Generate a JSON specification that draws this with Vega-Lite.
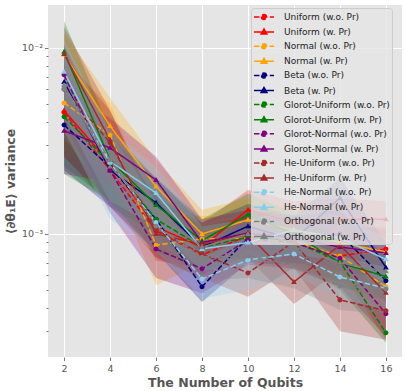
{
  "$schema": "https://vega.github.io/schema/vega-lite/v6.json",
  "autosize": "none",
  "width": 354,
  "height": 352,
  "padding": {"left": 48, "top": 5, "right": 5, "bottom": 34},
  "background": "white",
  "config": {
    "view": {"fill": "#E5E5E5", "stroke": null},
    "font": "DejaVu Sans"
  },
  "data": {"values": [
    {"s":"Uniform (w.o. Pr)","x":2,"m":4.5e-3,"lo":2.6e-3,"hi":7.0e-3},
    {"s":"Uniform (w.o. Pr)","x":4,"m":2.2e-3,"lo":1.4e-3,"hi":3.2e-3},
    {"s":"Uniform (w.o. Pr)","x":6,"m":1.04e-3,"lo":7.5e-4,"hi":1.4e-3},
    {"s":"Uniform (w.o. Pr)","x":8,"m":7.7e-4,"lo":5.8e-4,"hi":1.0e-3},
    {"s":"Uniform (w.o. Pr)","x":10,"m":9.8e-4,"lo":7.2e-4,"hi":1.3e-3},
    {"s":"Uniform (w.o. Pr)","x":12,"m":9.0e-4,"lo":6.5e-4,"hi":1.2e-3},
    {"s":"Uniform (w.o. Pr)","x":14,"m":7.6e-4,"lo":5.5e-4,"hi":1.05e-3},
    {"s":"Uniform (w.o. Pr)","x":16,"m":8.3e-4,"lo":6.2e-4,"hi":1.1e-3},
    {"s":"Uniform (w. Pr)","x":2,"m":4.6e-3,"lo":2.6e-3,"hi":7.5e-3},
    {"s":"Uniform (w. Pr)","x":4,"m":2.4e-3,"lo":1.5e-3,"hi":3.6e-3},
    {"s":"Uniform (w. Pr)","x":6,"m":1.09e-3,"lo":8.0e-4,"hi":1.5e-3},
    {"s":"Uniform (w. Pr)","x":8,"m":8.5e-4,"lo":6.5e-4,"hi":1.15e-3},
    {"s":"Uniform (w. Pr)","x":10,"m":1.35e-3,"lo":1.0e-3,"hi":1.72e-3},
    {"s":"Uniform (w. Pr)","x":12,"m":1.15e-3,"lo":8.5e-4,"hi":1.5e-3},
    {"s":"Uniform (w. Pr)","x":14,"m":1.2e-3,"lo":9.0e-4,"hi":1.55e-3},
    {"s":"Uniform (w. Pr)","x":16,"m":1.2e-3,"lo":9.0e-4,"hi":1.5e-3},
    {"s":"Normal (w.o. Pr)","x":2,"m":5.06e-3,"lo":2.8e-3,"hi":8.0e-3},
    {"s":"Normal (w.o. Pr)","x":4,"m":3.4e-3,"lo":2.0e-3,"hi":5.0e-3},
    {"s":"Normal (w.o. Pr)","x":6,"m":8.7e-4,"lo":5.3e-4,"hi":1.3e-3},
    {"s":"Normal (w.o. Pr)","x":8,"m":9.4e-4,"lo":7.0e-4,"hi":1.25e-3},
    {"s":"Normal (w.o. Pr)","x":10,"m":9.5e-4,"lo":7.2e-4,"hi":1.25e-3},
    {"s":"Normal (w.o. Pr)","x":12,"m":9.1e-4,"lo":6.8e-4,"hi":1.2e-3},
    {"s":"Normal (w.o. Pr)","x":14,"m":7.6e-4,"lo":5.6e-4,"hi":1.0e-3},
    {"s":"Normal (w.o. Pr)","x":16,"m":5.2e-4,"lo":3.8e-4,"hi":7.0e-4},
    {"s":"Normal (w. Pr)","x":2,"m":9.2e-3,"lo":5.5e-3,"hi":1.2e-2},
    {"s":"Normal (w. Pr)","x":4,"m":3.8e-3,"lo":2.3e-3,"hi":5.4e-3},
    {"s":"Normal (w. Pr)","x":6,"m":1.8e-3,"lo":1.1e-3,"hi":2.5e-3},
    {"s":"Normal (w. Pr)","x":8,"m":1.0e-3,"lo":7.5e-4,"hi":1.35e-3},
    {"s":"Normal (w. Pr)","x":10,"m":1.19e-3,"lo":9.0e-4,"hi":1.55e-3},
    {"s":"Normal (w. Pr)","x":12,"m":1.05e-3,"lo":8.0e-4,"hi":1.4e-3},
    {"s":"Normal (w. Pr)","x":14,"m":9.0e-4,"lo":7.0e-4,"hi":1.2e-3},
    {"s":"Normal (w. Pr)","x":16,"m":8.0e-4,"lo":6.0e-4,"hi":1.05e-3},
    {"s":"Beta (w.o. Pr)","x":2,"m":3.85e-3,"lo":2.2e-3,"hi":6.0e-3},
    {"s":"Beta (w.o. Pr)","x":4,"m":2.29e-3,"lo":1.4e-3,"hi":3.3e-3},
    {"s":"Beta (w.o. Pr)","x":6,"m":1.2e-3,"lo":8.0e-4,"hi":1.6e-3},
    {"s":"Beta (w.o. Pr)","x":8,"m":5.2e-4,"lo":4.3e-4,"hi":7.0e-4},
    {"s":"Beta (w.o. Pr)","x":10,"m":9.6e-4,"lo":7.0e-4,"hi":1.3e-3},
    {"s":"Beta (w.o. Pr)","x":12,"m":9.2e-4,"lo":6.8e-4,"hi":1.25e-3},
    {"s":"Beta (w.o. Pr)","x":14,"m":1.0e-3,"lo":7.3e-4,"hi":1.35e-3},
    {"s":"Beta (w.o. Pr)","x":16,"m":5.6e-4,"lo":4.2e-4,"hi":7.5e-4},
    {"s":"Beta (w. Pr)","x":2,"m":6.56e-3,"lo":3.8e-3,"hi":1.0e-2},
    {"s":"Beta (w. Pr)","x":4,"m":2.2e-3,"lo":1.4e-3,"hi":3.3e-3},
    {"s":"Beta (w. Pr)","x":6,"m":1.47e-3,"lo":1.0e-3,"hi":2.0e-3},
    {"s":"Beta (w. Pr)","x":8,"m":8.5e-4,"lo":6.0e-4,"hi":1.15e-3},
    {"s":"Beta (w. Pr)","x":10,"m":1.1e-3,"lo":8.2e-4,"hi":1.45e-3},
    {"s":"Beta (w. Pr)","x":12,"m":9.3e-4,"lo":7.0e-4,"hi":1.25e-3},
    {"s":"Beta (w. Pr)","x":14,"m":1.56e-3,"lo":1.15e-3,"hi":2.0e-3},
    {"s":"Beta (w. Pr)","x":16,"m":6.6e-4,"lo":4.8e-4,"hi":9.0e-4},
    {"s":"Glorot-Uniform (w.o. Pr)","x":2,"m":4.26e-3,"lo":2.3e-3,"hi":7.0e-3},
    {"s":"Glorot-Uniform (w.o. Pr)","x":4,"m":2.4e-3,"lo":1.5e-3,"hi":3.5e-3},
    {"s":"Glorot-Uniform (w.o. Pr)","x":6,"m":1.2e-3,"lo":8.0e-4,"hi":1.6e-3},
    {"s":"Glorot-Uniform (w.o. Pr)","x":8,"m":8.5e-4,"lo":6.3e-4,"hi":1.1e-3},
    {"s":"Glorot-Uniform (w.o. Pr)","x":10,"m":9.6e-4,"lo":7.2e-4,"hi":1.25e-3},
    {"s":"Glorot-Uniform (w.o. Pr)","x":12,"m":9.1e-4,"lo":6.8e-4,"hi":1.2e-3},
    {"s":"Glorot-Uniform (w.o. Pr)","x":14,"m":7.1e-4,"lo":5.0e-4,"hi":9.5e-4},
    {"s":"Glorot-Uniform (w.o. Pr)","x":16,"m":2.94e-4,"lo":2.6e-4,"hi":4.0e-4},
    {"s":"Glorot-Uniform (w. Pr)","x":2,"m":9.52e-3,"lo":2.1e-3,"hi":1.4e-2},
    {"s":"Glorot-Uniform (w. Pr)","x":4,"m":2.5e-3,"lo":1.5e-3,"hi":3.6e-3},
    {"s":"Glorot-Uniform (w. Pr)","x":6,"m":1.43e-3,"lo":1.0e-3,"hi":2.0e-3},
    {"s":"Glorot-Uniform (w. Pr)","x":8,"m":9.2e-4,"lo":7.0e-4,"hi":1.2e-3},
    {"s":"Glorot-Uniform (w. Pr)","x":10,"m":1.27e-3,"lo":9.5e-4,"hi":1.65e-3},
    {"s":"Glorot-Uniform (w. Pr)","x":12,"m":1.0e-3,"lo":7.5e-4,"hi":1.3e-3},
    {"s":"Glorot-Uniform (w. Pr)","x":14,"m":6.98e-4,"lo":5.2e-4,"hi":9.2e-4},
    {"s":"Glorot-Uniform (w. Pr)","x":16,"m":5.9e-4,"lo":4.4e-4,"hi":7.8e-4},
    {"s":"Glorot-Normal (w.o. Pr)","x":2,"m":7.16e-3,"lo":4.0e-3,"hi":1.05e-2},
    {"s":"Glorot-Normal (w.o. Pr)","x":4,"m":2.2e-3,"lo":1.3e-3,"hi":3.4e-3},
    {"s":"Glorot-Normal (w.o. Pr)","x":6,"m":8.3e-4,"lo":5.8e-4,"hi":1.15e-3},
    {"s":"Glorot-Normal (w.o. Pr)","x":8,"m":6.5e-4,"lo":4.8e-4,"hi":8.6e-4},
    {"s":"Glorot-Normal (w.o. Pr)","x":10,"m":9.3e-4,"lo":6.8e-4,"hi":1.25e-3},
    {"s":"Glorot-Normal (w.o. Pr)","x":12,"m":9.0e-4,"lo":6.5e-4,"hi":1.2e-3},
    {"s":"Glorot-Normal (w.o. Pr)","x":14,"m":7.4e-4,"lo":5.2e-4,"hi":1.0e-3},
    {"s":"Glorot-Normal (w.o. Pr)","x":16,"m":3.72e-4,"lo":2.8e-4,"hi":5.0e-4},
    {"s":"Glorot-Normal (w. Pr)","x":2,"m":3.58e-3,"lo":2.1e-3,"hi":5.6e-3},
    {"s":"Glorot-Normal (w. Pr)","x":4,"m":2.9e-3,"lo":1.9e-3,"hi":4.2e-3},
    {"s":"Glorot-Normal (w. Pr)","x":6,"m":1.95e-3,"lo":1.4e-3,"hi":2.6e-3},
    {"s":"Glorot-Normal (w. Pr)","x":8,"m":9.0e-4,"lo":6.8e-4,"hi":1.2e-3},
    {"s":"Glorot-Normal (w. Pr)","x":10,"m":1.01e-3,"lo":7.5e-4,"hi":1.35e-3},
    {"s":"Glorot-Normal (w. Pr)","x":12,"m":9.5e-4,"lo":7.0e-4,"hi":1.25e-3},
    {"s":"Glorot-Normal (w. Pr)","x":14,"m":8.5e-4,"lo":6.3e-4,"hi":1.15e-3},
    {"s":"Glorot-Normal (w. Pr)","x":16,"m":7.9e-4,"lo":5.8e-4,"hi":1.05e-3},
    {"s":"He-Uniform (w.o. Pr)","x":2,"m":6.0e-3,"lo":3.4e-3,"hi":9.0e-3},
    {"s":"He-Uniform (w.o. Pr)","x":4,"m":3.1e-3,"lo":1.9e-3,"hi":4.6e-3},
    {"s":"He-Uniform (w.o. Pr)","x":6,"m":1.05e-3,"lo":7.5e-4,"hi":1.4e-3},
    {"s":"He-Uniform (w.o. Pr)","x":8,"m":7.8e-4,"lo":5.8e-4,"hi":1.05e-3},
    {"s":"He-Uniform (w.o. Pr)","x":10,"m":6.17e-4,"lo":4.6e-4,"hi":8.3e-4},
    {"s":"He-Uniform (w.o. Pr)","x":12,"m":9.06e-4,"lo":6.6e-4,"hi":1.2e-3},
    {"s":"He-Uniform (w.o. Pr)","x":14,"m":4.42e-4,"lo":3.0e-4,"hi":6.3e-4},
    {"s":"He-Uniform (w.o. Pr)","x":16,"m":3.86e-4,"lo":2.7e-4,"hi":5.3e-4},
    {"s":"He-Uniform (w. Pr)","x":2,"m":9.28e-3,"lo":5.5e-3,"hi":1.3e-2},
    {"s":"He-Uniform (w. Pr)","x":4,"m":3.2e-3,"lo":2.0e-3,"hi":4.6e-3},
    {"s":"He-Uniform (w. Pr)","x":6,"m":1.0e-3,"lo":7.2e-4,"hi":1.35e-3},
    {"s":"He-Uniform (w. Pr)","x":8,"m":8.8e-4,"lo":6.5e-4,"hi":1.15e-3},
    {"s":"He-Uniform (w. Pr)","x":10,"m":1.0e-3,"lo":7.4e-4,"hi":1.3e-3},
    {"s":"He-Uniform (w. Pr)","x":12,"m":5.52e-4,"lo":4.2e-4,"hi":7.5e-4},
    {"s":"He-Uniform (w. Pr)","x":14,"m":8.72e-4,"lo":6.4e-4,"hi":1.15e-3},
    {"s":"He-Uniform (w. Pr)","x":16,"m":4.82e-4,"lo":2.7e-4,"hi":7.0e-4},
    {"s":"He-Normal (w.o. Pr)","x":2,"m":6.25e-3,"lo":3.6e-3,"hi":9.5e-3},
    {"s":"He-Normal (w.o. Pr)","x":4,"m":2.41e-3,"lo":1.2e-3,"hi":3.5e-3},
    {"s":"He-Normal (w.o. Pr)","x":6,"m":1.15e-3,"lo":8.0e-4,"hi":1.5e-3},
    {"s":"He-Normal (w.o. Pr)","x":8,"m":5.73e-4,"lo":4.5e-4,"hi":7.5e-4},
    {"s":"He-Normal (w.o. Pr)","x":10,"m":7.25e-4,"lo":5.0e-4,"hi":9.5e-4},
    {"s":"He-Normal (w.o. Pr)","x":12,"m":7.8e-4,"lo":6.0e-4,"hi":1.0e-3},
    {"s":"He-Normal (w.o. Pr)","x":14,"m":5.87e-4,"lo":4.5e-4,"hi":7.6e-4},
    {"s":"He-Normal (w.o. Pr)","x":16,"m":5.1e-4,"lo":3.9e-4,"hi":6.6e-4},
    {"s":"He-Normal (w. Pr)","x":2,"m":7.43e-3,"lo":4.3e-3,"hi":1.1e-2},
    {"s":"He-Normal (w. Pr)","x":4,"m":2.45e-3,"lo":1.5e-3,"hi":3.6e-3},
    {"s":"He-Normal (w. Pr)","x":6,"m":1.66e-3,"lo":1.1e-3,"hi":2.3e-3},
    {"s":"He-Normal (w. Pr)","x":8,"m":8.3e-4,"lo":6.3e-4,"hi":1.1e-3},
    {"s":"He-Normal (w. Pr)","x":10,"m":9.0e-4,"lo":6.8e-4,"hi":1.2e-3},
    {"s":"He-Normal (w. Pr)","x":12,"m":1.05e-3,"lo":7.8e-4,"hi":1.35e-3},
    {"s":"He-Normal (w. Pr)","x":14,"m":9.5e-4,"lo":7.2e-4,"hi":1.25e-3},
    {"s":"He-Normal (w. Pr)","x":16,"m":7.3e-4,"lo":5.5e-4,"hi":9.6e-4},
    {"s":"Orthogonal (w.o. Pr)","x":2,"m":6.0e-3,"lo":3.3e-3,"hi":9.0e-3},
    {"s":"Orthogonal (w.o. Pr)","x":4,"m":2.5e-3,"lo":1.5e-3,"hi":3.7e-3},
    {"s":"Orthogonal (w.o. Pr)","x":6,"m":1.1e-3,"lo":7.8e-4,"hi":1.5e-3},
    {"s":"Orthogonal (w.o. Pr)","x":8,"m":7.5e-4,"lo":5.6e-4,"hi":1.0e-3},
    {"s":"Orthogonal (w.o. Pr)","x":10,"m":7.62e-4,"lo":5.8e-4,"hi":1.0e-3},
    {"s":"Orthogonal (w.o. Pr)","x":12,"m":6.81e-4,"lo":5.1e-4,"hi":9.0e-4},
    {"s":"Orthogonal (w.o. Pr)","x":14,"m":5.25e-4,"lo":3.9e-4,"hi":7.0e-4},
    {"s":"Orthogonal (w.o. Pr)","x":16,"m":5.06e-4,"lo":3.7e-4,"hi":6.8e-4},
    {"s":"Orthogonal (w. Pr)","x":2,"m":6.3e-3,"lo":3.5e-3,"hi":9.5e-3},
    {"s":"Orthogonal (w. Pr)","x":4,"m":2.3e-3,"lo":1.4e-3,"hi":3.5e-3},
    {"s":"Orthogonal (w. Pr)","x":6,"m":1.3e-3,"lo":9.0e-4,"hi":1.8e-3},
    {"s":"Orthogonal (w. Pr)","x":8,"m":8.5e-4,"lo":6.3e-4,"hi":1.15e-3},
    {"s":"Orthogonal (w. Pr)","x":10,"m":1.0e-3,"lo":7.5e-4,"hi":1.3e-3},
    {"s":"Orthogonal (w. Pr)","x":12,"m":8.5e-4,"lo":6.4e-4,"hi":1.1e-3},
    {"s":"Orthogonal (w. Pr)","x":14,"m":7.0e-4,"lo":5.2e-4,"hi":9.4e-4},
    {"s":"Orthogonal (w. Pr)","x":16,"m":6.3e-4,"lo":4.6e-4,"hi":8.5e-4}
  ]},
  "encoding": {
    "x": {
      "field": "x", "type": "quantitative",
      "scale": {"domain": [1.3, 16.7], "nice": false, "zero": false},
      "axis": {
        "values": [2,4,6,8,10,12,14,16],
        "title": "The Number of Qubits",
        "titleFont": "DejaVu Sans", "titleFontSize": 12.5, "titleFontWeight": "bold", "titleColor": "#555555",
        "titlePadding": 3,
        "labelFont": "DejaVu Sans", "labelFontSize": 9.5, "labelColor": "#555555", "labelPadding": 3,
        "domain": false, "tickColor": "#555555", "tickSize": 3.5, "tickWidth": 0.8,
        "grid": true, "gridColor": "white", "gridWidth": 1.1
      }
    }
  },
  "layer": [
    {
      "mark": {"type": "area", "opacity": 0.27},
      "encoding": {
        "y": {"field": "lo", "type": "quantitative"},
        "y2": {"field": "hi"},
        "color": {"field": "s", "type": "nominal"}
      }
    },
    {
      "mark": {"type": "line", "strokeWidth": 1.5},
      "encoding": {
        "y": {"field": "m", "type": "quantitative"},
        "color": {"field": "s", "type": "nominal"},
        "strokeDash": {"field": "s", "type": "nominal", "legend": null,
          "scale": {
            "domain": ["Uniform (w.o. Pr)","Uniform (w. Pr)","Normal (w.o. Pr)","Normal (w. Pr)","Beta (w.o. Pr)","Beta (w. Pr)","Glorot-Uniform (w.o. Pr)","Glorot-Uniform (w. Pr)","Glorot-Normal (w.o. Pr)","Glorot-Normal (w. Pr)","He-Uniform (w.o. Pr)","He-Uniform (w. Pr)","He-Normal (w.o. Pr)","He-Normal (w. Pr)","Orthogonal (w.o. Pr)","Orthogonal (w. Pr)"],
            "range": [[5.5,2.4],[1,0],[5.5,2.4],[1,0],[5.5,2.4],[1,0],[5.5,2.4],[1,0],[5.5,2.4],[1,0],[5.5,2.4],[1,0],[5.5,2.4],[1,0],[5.5,2.4],[1,0]]
          }
        }
      }
    },
    {
      "mark": {"type": "point", "filled": true, "opacity": 1, "size": 144},
      "encoding": {
        "y": {
          "field": "m", "type": "quantitative",
          "scale": {"type": "log", "domain": [2.18e-4, 1.70e-2], "nice": false},
          "axis": {
            "values": [0.0003,0.0004,0.0005,0.0006,0.0007,0.0008,0.0009,0.001,0.002,0.003,0.004,0.005,0.006,0.007,0.008,0.009,0.01],
            "labelExpr": "datum.value == 0.01 ? '10⁻²' : (datum.value == 0.001 ? '10⁻³' : '')",
            "title": "⟨∂θ₁E⟩ variance",
            "titleFont": "DejaVu Sans", "titleFontSize": 12.5, "titleFontWeight": "bold", "titleColor": "#555555",
            "titlePadding": 4,
            "labelFont": "DejaVu Sans", "labelFontSize": 9.5, "labelColor": "#555555", "labelPadding": 2,
            "domain": false, "tickColor": "#555555", "tickWidth": 0.8,
            "tickSize": {"condition": {"test": "datum.value == 0.01 || datum.value == 0.001", "value": 3.5}, "value": 2},
            "grid": true, "gridColor": "white", "gridWidth": 1.1,
            "gridOpacity": {"condition": {"test": "datum.value == 0.01 || datum.value == 0.001", "value": 1}, "value": 0}
          }
        },
        "color": {
          "field": "s", "type": "nominal",
          "scale": {
            "domain": ["Uniform (w.o. Pr)","Uniform (w. Pr)","Normal (w.o. Pr)","Normal (w. Pr)","Beta (w.o. Pr)","Beta (w. Pr)","Glorot-Uniform (w.o. Pr)","Glorot-Uniform (w. Pr)","Glorot-Normal (w.o. Pr)","Glorot-Normal (w. Pr)","He-Uniform (w.o. Pr)","He-Uniform (w. Pr)","He-Normal (w.o. Pr)","He-Normal (w. Pr)","Orthogonal (w.o. Pr)","Orthogonal (w. Pr)"],
            "range": ["#ff0000","#ff0000","#ffa500","#ffa500","#000080","#000080","#008000","#008000","#800080","#800080","#a52a2a","#a52a2a","#87ceeb","#87ceeb","#808080","#808080"]
          },
          "legend": {
            "title": null,
            "orient": "none", "legendX": 203, "legendY": 3,
            "labelFont": "DejaVu Sans", "labelFontSize": 9, "labelColor": "#222222",
            "symbolSize": 144, "symbolStrokeWidth": 1.5, "symbolOpacity": 1, "rowPadding": 2.1,
            "padding": 2, "symbolOffset": 4, "labelOffset": 13,
            "fillColor": "rgba(229,229,229,0.8)", "strokeColor": "#cccccc", "cornerRadius": 3,
            "encode": {"symbols": {"update": {
              "fill": {"scale": "color", "field": "value"},
              "stroke": {"scale": "color", "field": "value"},
              "opacity": {"value": 1},
              "fillOpacity": {"value": 1},
              "strokeWidth": {"value": 1.5},
              "strokeDash": {"signal": "indexof(datum.value, 'w.o.') >= 0 ? [4, 1.8] : [1, 0]"}
            }}}
          }
        },
        "shape": {
          "field": "s", "type": "nominal",
          "scale": {
            "domain": ["Uniform (w.o. Pr)","Uniform (w. Pr)","Normal (w.o. Pr)","Normal (w. Pr)","Beta (w.o. Pr)","Beta (w. Pr)","Glorot-Uniform (w.o. Pr)","Glorot-Uniform (w. Pr)","Glorot-Normal (w.o. Pr)","Glorot-Normal (w. Pr)","He-Uniform (w.o. Pr)","He-Uniform (w. Pr)","He-Normal (w.o. Pr)","He-Normal (w. Pr)","Orthogonal (w.o. Pr)","Orthogonal (w. Pr)"],
            "range": [
              "M-1.67,0H1.67M-0.42,0A0.42,0.42 0 1,0 0.42,0A0.42,0.42 0 1,0 -0.42,0Z","M-1.67,0H1.67M0,-0.5L0.48,0.33L-0.48,0.33Z",
              "M-1.67,0H1.67M-0.42,0A0.42,0.42 0 1,0 0.42,0A0.42,0.42 0 1,0 -0.42,0Z","M-1.67,0H1.67M0,-0.5L0.48,0.33L-0.48,0.33Z",
              "M-1.67,0H1.67M-0.42,0A0.42,0.42 0 1,0 0.42,0A0.42,0.42 0 1,0 -0.42,0Z","M-1.67,0H1.67M0,-0.5L0.48,0.33L-0.48,0.33Z",
              "M-1.67,0H1.67M-0.42,0A0.42,0.42 0 1,0 0.42,0A0.42,0.42 0 1,0 -0.42,0Z","M-1.67,0H1.67M0,-0.5L0.48,0.33L-0.48,0.33Z",
              "M-1.67,0H1.67M-0.42,0A0.42,0.42 0 1,0 0.42,0A0.42,0.42 0 1,0 -0.42,0Z","M-1.67,0H1.67M0,-0.5L0.48,0.33L-0.48,0.33Z",
              "M-1.67,0H1.67M-0.42,0A0.42,0.42 0 1,0 0.42,0A0.42,0.42 0 1,0 -0.42,0Z","M-1.67,0H1.67M0,-0.5L0.48,0.33L-0.48,0.33Z",
              "M-1.67,0H1.67M-0.42,0A0.42,0.42 0 1,0 0.42,0A0.42,0.42 0 1,0 -0.42,0Z","M-1.67,0H1.67M0,-0.5L0.48,0.33L-0.48,0.33Z",
              "M-1.67,0H1.67M-0.42,0A0.42,0.42 0 1,0 0.42,0A0.42,0.42 0 1,0 -0.42,0Z","M-1.67,0H1.67M0,-0.5L0.48,0.33L-0.48,0.33Z"
            ]
          }
        }
      }
    }
  ]
}
